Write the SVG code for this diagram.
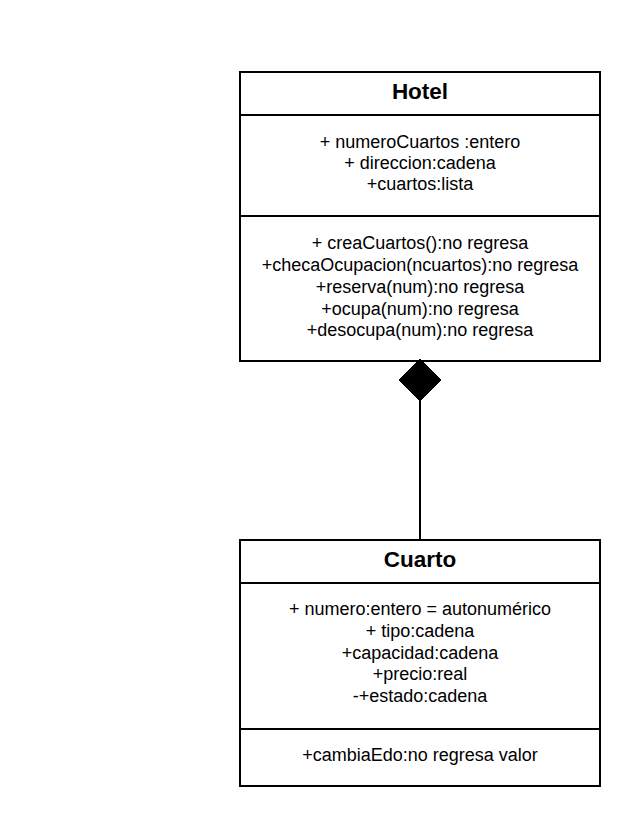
<svg xmlns="http://www.w3.org/2000/svg" width="640" height="827" viewBox="0 0 640 827">
<style>
.box{fill:#fff;stroke:#000;stroke-width:2}
.div{stroke:#000;stroke-width:2}
.t{font-family:"Liberation Sans",Arial,sans-serif;font-size:18px;text-anchor:middle;fill:#000}
.h{font-family:"Liberation Sans",Arial,sans-serif;font-size:22.5px;font-weight:bold;text-anchor:middle;fill:#000}
</style>
<rect width="640" height="827" fill="#fff"/>
<g id="connectors">
<line x1="420" y1="400" x2="420" y2="540" stroke="#000" stroke-width="2"/>
</g>
<g id="Hotel">
<rect class="box" x="240" y="72" width="360" height="289"/>
<line class="div" x1="240" y1="115" x2="600" y2="115"/>
<line class="div" x1="240" y1="216" x2="600" y2="216"/>
<text class="h" x="420" y="99">Hotel</text>
<text class="t" x="420" y="148">+ numeroCuartos :entero</text>
<text class="t" x="420" y="169">+ direccion:cadena</text>
<text class="t" x="420" y="190">+cuartos:lista</text>
<text class="t" x="420" y="249">+ creaCuartos():no regresa</text>
<text class="t" x="420" y="271">+checaOcupacion(ncuartos):no regresa</text>
<text class="t" x="420" y="293">+reserva(num):no regresa</text>
<text class="t" x="420" y="315">+ocupa(num):no regresa</text>
<text class="t" x="420" y="336">+desocupa(num):no regresa</text>
</g>
<g id="diamond">
<polygon points="420,359 441,380 420,401 399,380" fill="#000" stroke="#000" stroke-width="1"/>
</g>
<g id="Cuarto">
<rect class="box" x="240" y="540" width="360" height="246"/>
<line class="div" x1="240" y1="583" x2="600" y2="583"/>
<line class="div" x1="240" y1="729" x2="600" y2="729"/>
<text class="h" x="420" y="567">Cuarto</text>
<text class="t" x="420" y="615">+ numero:entero = autonumérico</text>
<text class="t" x="420" y="637">+ tipo:cadena</text>
<text class="t" x="420" y="659">+capacidad:cadena</text>
<text class="t" x="420" y="680">+precio:real</text>
<text class="t" x="420" y="702">-+estado:cadena</text>
<text class="t" x="420" y="761">+cambiaEdo:no regresa valor</text>
</g>
</svg>
